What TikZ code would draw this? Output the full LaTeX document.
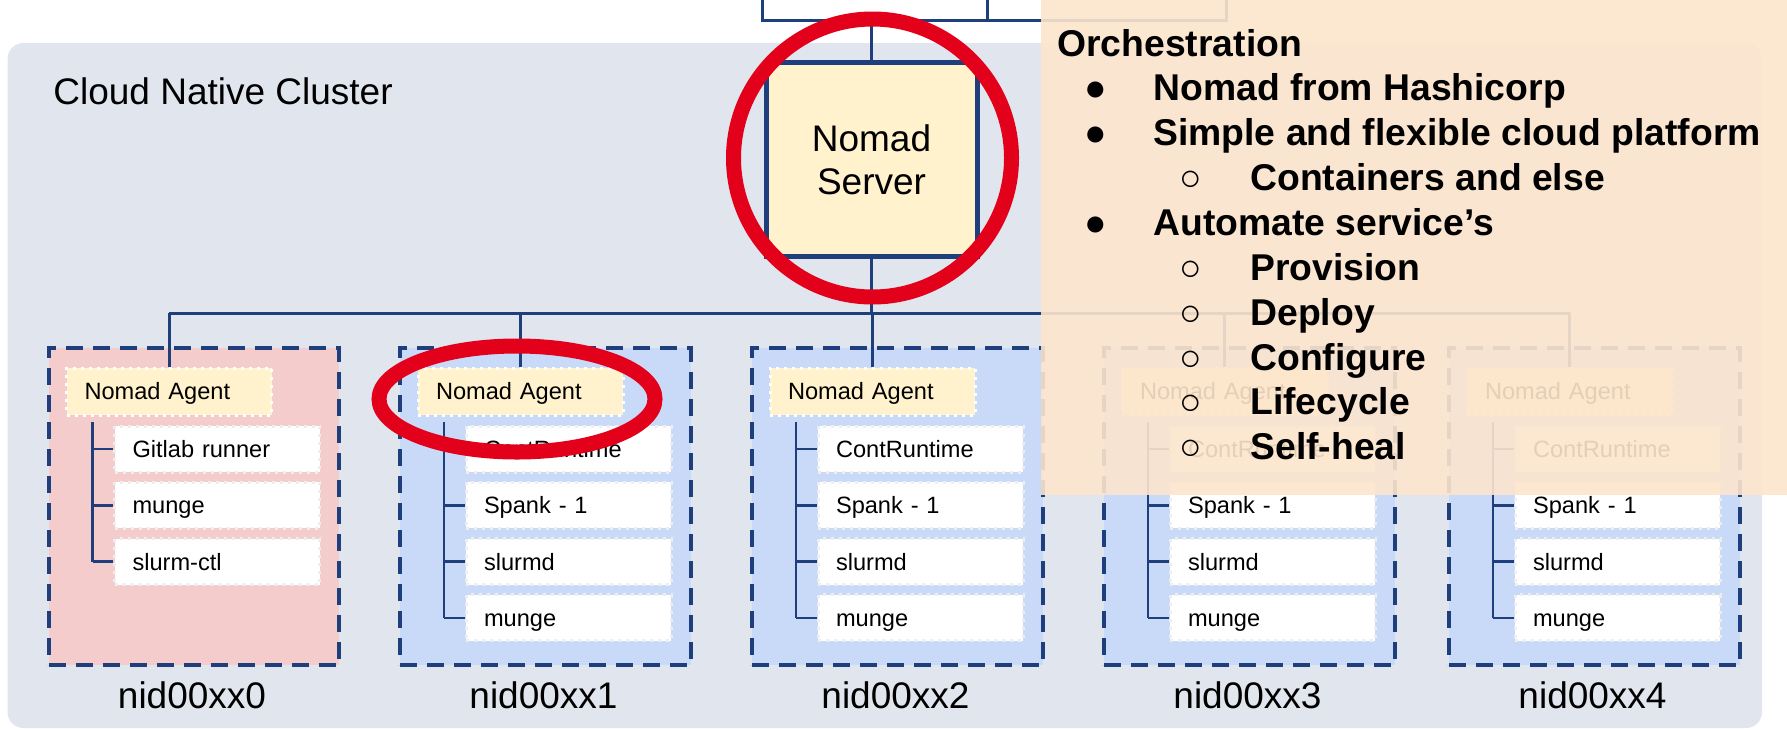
\documentclass[tikz,border=0pt]{standalone}
\usepackage{fontspec}
\setmainfont{Liberation Sans}
\usetikzlibrary{calc}
\definecolor{dkblue}{HTML}{1F3F7C}
\definecolor{clusterbg}{HTML}{E1E6EE}
\definecolor{pinkbg}{HTML}{F4CCCC}
\definecolor{bluebg}{HTML}{C9DAF8}
\definecolor{ylw}{HTML}{FFF2CC}
\definecolor{redmark}{HTML}{E2001A}
\definecolor{orng}{HTML}{FCE5CD}
\definecolor{dotgray}{HTML}{EEEEEE}
\begin{document}
\begin{tikzpicture}[x=0.5pt,y=-0.5pt,
  conn/.style={draw=dkblue,line width=1.5pt},
  treeline/.style={draw=dkblue,line width=1.2pt},
  topbox/.style={draw=dkblue,fill=white,line width=1.5pt,inner sep=0pt,anchor=south west},
  srvbox/.style={draw=dkblue,fill=ylw,line width=2.5pt,minimum width=105.5pt,minimum height=97pt,align=center,inner sep=0pt,font=\fontsize{18.5pt}{21.5pt}\selectfont},
  hostbox/.style={draw=dkblue,line width=2pt,dash pattern=on 8.5pt off 5pt,minimum width=145.25pt,minimum height=158.5pt,inner sep=0pt,anchor=north west},
  agentbox/.style={fill=ylw,draw=white,line width=1.5pt,dash pattern=on 1.5pt off 2.5pt,text width=84.5pt,inner xsep=9pt,inner ysep=0pt,minimum height=23.5pt,text height=8.45pt,text depth=0pt,align=left,font=\fontsize{11.8pt}{14pt}\selectfont,anchor=west},
  svcbox/.style={agentbox,fill=white,draw=dotgray,minimum height=23pt},
  biglabel/.style={inner sep=0pt,font=\fontsize{18.5pt}{22pt}\selectfont},
  redring/.style={draw=redmark,line width=7.5pt},
  otext/.style={anchor=base west,inner sep=0pt,font=\bfseries\fontsize{18.65pt}{22pt}\selectfont}
]
\useasboundingbox (0,0) rectangle (1787,729);
\fill[white] (0,0) rectangle (1787,729);
\clip (0,0) rectangle (1787,729);
% cluster background
\fill[clusterbg,rounded corners=8pt] (7.5,43) rectangle (1762,728);
\node[biglabel,anchor=base west] (title) at (53,104) {Cloud Native Cluster};
% upper boxes (cut off)
\node[topbox,minimum width=113.5pt,minimum height=30pt] (topA) at (760.5,21.5) {};
\node[topbox,minimum width=119.25pt,minimum height=30pt] (topB) at (986,21.5) {};
% server
\node[srvbox] (srv) at (871.5,159.5) {Nomad\\Server};
\draw[conn] (srv.north |- topA.south) -- (srv.north);
\coordinate (bus) at (871.5,313);
\draw[conn] (srv.south) -- (bus);
% hosts
\foreach \i/\L/\col in {0/44.5/pinkbg,1/396/bluebg,2/748/bluebg,3/1100/bluebg,4/1445/bluebg} {
  \node[hostbox,fill=\col] (h\i) at (\L+2,346) {};
  \node[agentbox] (a\i) at (\L+20.5,391.5) {Nomad Agent};
  \node[biglabel,anchor=base] (l\i) at (\L+147.5,708) {nid00xx\i};
  \coordinate (t\i) at (\L+48,422);
}
\draw[conn] (a0.north |- bus) -- (a4.north |- bus);
\foreach \i in {0,...,4} \draw[conn] (a\i.north |- bus) -- (a\i.north);
% services of host 0
\foreach \t [count=\j] in {Gitlab runner,munge,slurm-ctl} {
  \node[svcbox] (s0x\j) at (113,449+56.3*\j-56.3) {\t};
  \draw[treeline] (t0 |- s0x\j.west) -- (s0x\j.west);
}
\draw[treeline] (t0) -- (t0 |- s0x3.west);
% services of hosts 1-4
\foreach \i/\L in {1/396,2/748,3/1100,4/1445} {
  \foreach \t [count=\j] in {ContRuntime,Spank - 1,slurmd,munge} {
    \node[svcbox] (s\i x\j) at (\L+68.5,449+56.3*\j-56.3) {\t};
    \draw[treeline] (t\i |- s\i x\j.west) -- (s\i x\j.west);
  }
  \draw[treeline] (t\i) -- (t\i |- s\i x4.west);
}
% red marks
\draw[redring] (872.5,158) circle [radius=69.5pt];
\draw[redring] (517,399) ellipse [x radius=69pt,y radius=26.5pt];
% overlay
\node[fill=orng,fill opacity=0.9,inner sep=0pt,minimum width=373pt,minimum height=247.5pt,anchor=north west] (ovl) at (1041,0) {};
\node[otext] (o0) at (1057,56) {Orchestration};
\node[otext] (b1) at (1084,100) {●};
\node[otext] (o1) at (1153,100) {Nomad from Hashicorp};
\node[otext] (b2) at (1084,145) {●};
\node[otext] (o2) at (1153,145) {Simple and flexible cloud platform};
\node[otext] (b3) at (1179,190) {○};
\node[otext] (o3) at (1250,190) {Containers and else};
\node[otext] (b4) at (1084,235) {●};
\node[otext] (o4) at (1153,235) {Automate service’s};
\node[otext] (b5) at (1179,280) {○};
\node[otext] (o5) at (1250,280) {Provision};
\node[otext] (b6) at (1179,325) {○};
\node[otext] (o6) at (1250,325) {Deploy};
\node[otext] (b7) at (1179,370) {○};
\node[otext] (o7) at (1250,370) {Configure};
\node[otext] (b8) at (1179,414.5) {○};
\node[otext] (o8) at (1250,414.5) {Lifecycle};
\node[otext] (b9) at (1179,459) {○};
\node[otext] (o9) at (1250,459) {Self-heal};
\end{tikzpicture}
\end{document}
